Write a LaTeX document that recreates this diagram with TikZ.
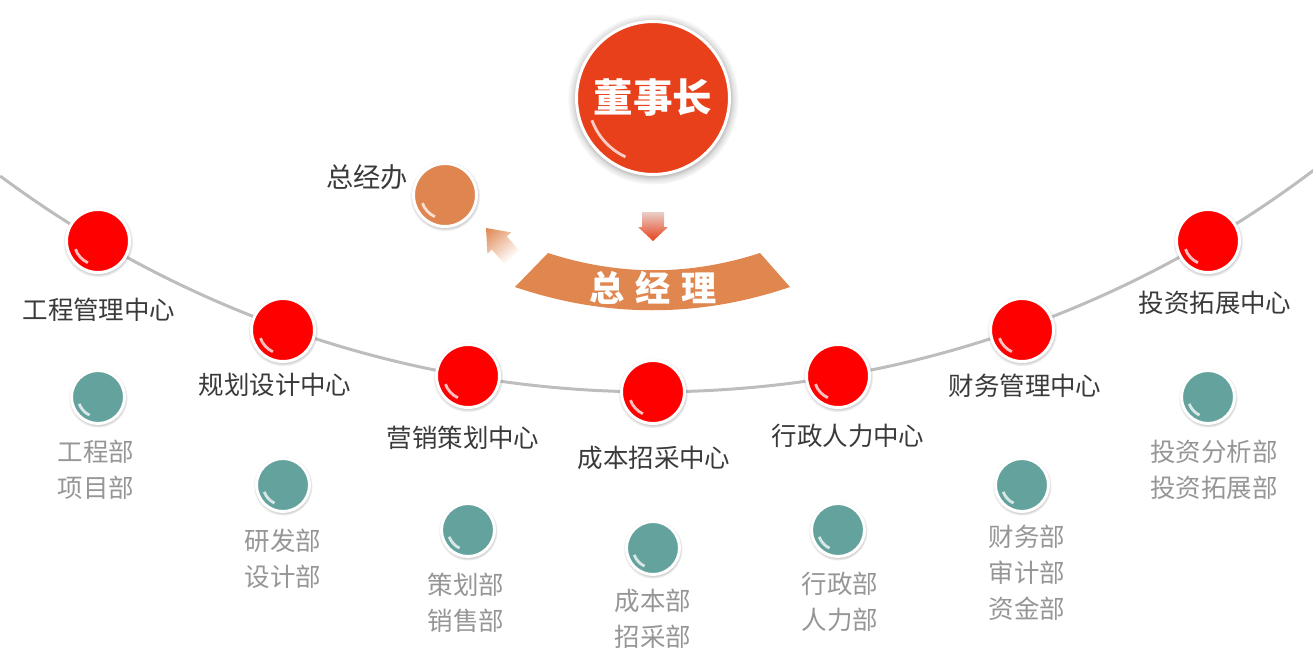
\documentclass[tikz,border=0pt]{standalone}
\usepackage{fontspec}
\setmainfont{Noto Sans CJK SC}
\usepackage{tikz}
\usetikzlibrary{positioning,shadows}

\definecolor{chairred}{HTML}{E8401A}
\definecolor{arrowpink}{HTML}{E9CFC8}
\definecolor{ballred}{HTML}{FF0000}
\definecolor{ballteal}{HTML}{64A29D}
\definecolor{ballorange}{HTML}{DF854F}
\definecolor{bandorange}{HTML}{E0864F}
\definecolor{labeldark}{HTML}{3A3A3A}
\definecolor{labelgray}{HTML}{969696}
\definecolor{arcgray}{HTML}{BDBDBD}

\tikzset{
    gloss/.style={path picture={
        \draw[white, opacity=0.75, line width=1.6pt]
            (path picture bounding box.center) ++(200:#1)
            arc[start angle=200, end angle=245, radius=#1];}},
    ball/.style={circle,
        inner sep=0pt,
        draw=white,
        line width=0.06cm,
        circular drop shadow={shadow xshift=0pt, shadow yshift=-0.5pt,
            shadow scale=1.12, opacity=0.55}},
    centre/.style={ball, fill=ballred, minimum size=1.26cm, gloss=0.48cm},
    dept/.style={ball, fill=ballteal, minimum size=1.06cm, gloss=0.4cm},
    centrelabel/.style={text=labeldark, font=\fontsize{14.5pt}{17pt}\selectfont},
    deptlabel/.style={text=labelgray, align=center,
        font=\fontsize{14.5pt}{20.4pt}\selectfont},
    arcline/.style={draw=arcgray, line width=0.06cm}
}

\begin{document}
\begin{tikzpicture}[x=0.02cm, y=0.02cm]

    \useasboundingbox (0,0) rectangle (1313,-666);

    % big arc behind the centres
    \coordinate (arcc) at (653,703);
    \draw[arcline] (arcc) ++(233.4:1095)
        arc[start angle=233.4, end angle=307.1, radius=1095];

    % chairman
    \node[ball,
        fill=chairred,
        minimum size=3.06cm,
        gloss=1.3cm,
        circular drop shadow={shadow xshift=0pt, shadow yshift=-0.5pt,
            shadow scale=1.05, opacity=0.55},
        text=white,
        font=\fontsize{22.5pt}{26pt}\selectfont\bfseries
    ] (dsz) at (653,-98) {董事长};

    % down arrow
    \draw[draw=none, top color=arrowpink, bottom color=chairred]
        (642,-212) -- (664,-212) -- (664,-227) -- (668,-227)
        -- (653,-241) -- (638,-227) -- (642,-227) -- cycle;

    % general manager band
    \fill[bandorange] (548,-253) .. controls (619,-276) and (689,-276) .. (760,-253)
        -- (790,-287) .. controls (699,-318) and (606,-318) .. (515,-287) -- cycle;
    \node[text=white,
        font=\fontsize{20pt}{24pt}\selectfont\bfseries
    ] (zjl) at (653,-288) {总\hspace{6pt}经\hspace{6pt}理};

    % arrow to the office
    \begin{scope}[transform canvas={shift={(498,-241.5)}, rotate=-138.4}]
        \draw[draw=none, top color=white, bottom color=ballorange]
            (-10,22) -- (10,22) -- (10,2) -- (16,2)
            -- (0,-18) -- (-16,2) -- (-10,2) -- cycle;
    \end{scope}

    % office
    \node[ball,
        fill=ballorange,
        minimum size=1.26cm,
        gloss=0.48cm,
        circular drop shadow={shadow xshift=0pt, shadow yshift=0pt,
            shadow scale=1.08, opacity=0.15}
    ] (zjb) at (445,-195) {};
    \node[text=labeldark,
        font=\fontsize{15.5pt}{18pt}\selectfont
    ] (zjbtext) at (367,-177) {总经办};

    % centres
    \node[centre] (gcgl) at (98,-241) {};
    \node[centre] (ghsj) at (283,-330) {};
    \node[centre] (yxch) at (468,-376) {};
    \node[centre] (cbzc) at (653,-392) {};
    \node[centre] (xzrl) at (838,-376) {};
    \node[centre] (cwgl) at (1022,-330) {};
    \node[centre] (tztz) at (1208,-241) {};

    \node[centrelabel] (gcgltext) at (99,-310) {工程管理中心};
    \node[centrelabel] (ghsjtext) at (275,-385) {规划设计中心};
    \node[centrelabel] (yxchtext) at (463,-438) {营销策划中心};
    \node[centrelabel] (cbzctext) at (654,-458) {成本招采中心};
    \node[centrelabel] (xzrltext) at (848,-436) {行政人力中心};
    \node[centrelabel] (cwgltext) at (1025,-386) {财务管理中心};
    \node[centrelabel] (tztztext) at (1215,-303) {投资拓展中心};

    % departments
    \node[dept] (gcb) at (98,-397) {};
    \node[dept] (yfb) at (283,-485) {};
    \node[dept] (chb) at (468,-530) {};
    \node[dept] (cbb) at (653,-548) {};
    \node[dept] (xzb) at (838,-530) {};
    \node[dept] (cwb) at (1022,-485) {};
    \node[dept] (tzb) at (1208,-397) {};

    \node[deptlabel] (gcbtext) at (96,-470) {工程部\\项目部};
    \node[deptlabel] (yfbtext) at (283,-559) {研发部\\设计部};
    \node[deptlabel] (chbtext) at (466,-603) {策划部\\销售部};
    \node[deptlabel] (cbbtext) at (653,-619) {成本部\\招采部};
    \node[deptlabel] (xzbtext) at (840,-602) {行政部\\人力部};
    \node[deptlabel] (cwbtext) at (1027,-573) {财务部\\审计部\\资金部};
    \node[deptlabel] (tzbtext) at (1214,-470) {投资分析部\\投资拓展部};

\end{tikzpicture}
\end{document}
